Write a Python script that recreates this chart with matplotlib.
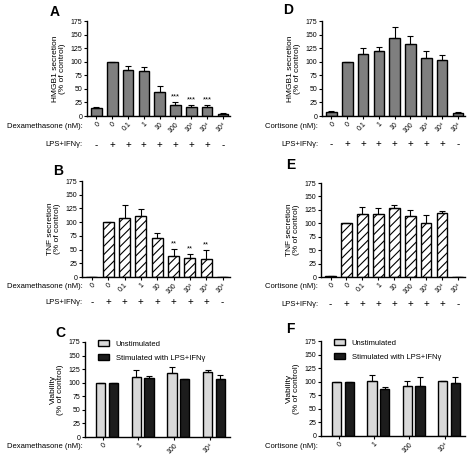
import matplotlib
matplotlib.use("Agg")
import matplotlib.pyplot as plt
from matplotlib.patches import Patch
import numpy as np

plt.rcParams['font.family'] = ['Liberation Sans', 'DejaVu Sans']
plt.rcParams['hatch.linewidth'] = 0.8

conc_labels = ['0', '0', '0.1', '1', '10', '100', '10³', '10⁴', '10⁴']
lps_signs = ['-', '+', '+', '+', '+', '+', '+', '+', '-']

hmgb1_dex = [14, 100, 85, 83, 45, 20, 17, 16, 4]
hmgb1_dex_err = [3, 0, 7, 7, 10, 5, 4, 4, 1]
hmgb1_dex_sig = ['', '', '', '', '', '***', '***', '***', '']

tnf_dex = [0.5, 100, 108, 112, 72, 39, 34, 33, 0.5]
tnf_dex_err = [0, 0, 23, 12, 8, 12, 8, 16, 0]
tnf_dex_sig = ['', '', '', '', '', '**', '**', '**', '']

hmgb1_cort = [8, 100, 114, 120, 144, 133, 106, 104, 6]
hmgb1_cort_err = [2, 0, 12, 8, 20, 14, 13, 9, 1]

tnf_cort = [1, 100, 117, 117, 128, 113, 101, 119, 0.5]
tnf_cort_err = [0, 0, 14, 11, 6, 12, 15, 3, 0]

via_labels = ['0', '1', '100', '10⁴']
via_dex_unstim = [100, 111, 118, 119]
via_dex_unstim_err = [0, 13, 11, 5]
via_dex_stim = [100, 108, 106, 106]
via_dex_stim_err = [0, 4, 0, 9]
via_cort_unstim = [100, 102, 93, 101]
via_cort_unstim_err = [0, 10, 9, 0]
via_cort_stim = [100, 87, 92, 97]
via_cort_stim_err = [0, 3, 17, 12]

W, H = 471, 459
fig = plt.figure(figsize=(W / 100, H / 100), dpi=100)
fig.patch.set_facecolor('white')


def add_ax(left, right, top, bottom):
    return fig.add_axes([left / W, 1 - bottom / H, (right - left) / W, (bottom - top) / H])


def style_ax(ax, ylabel):
    for s in ['top', 'right']:
        ax.spines[s].set_visible(False)
    for s in ['left', 'bottom']:
        ax.spines[s].set_linewidth(1.0)
    ax.set_ylim(0, 175)
    ax.set_yticks(np.arange(0, 176, 25))
    ax.tick_params(axis='y', labelsize=5, length=2.5, width=0.8, pad=1)
    ax.tick_params(axis='x', labelsize=5, length=2, width=0.8, pad=1.5)
    ax.set_ylabel(ylabel, fontsize=6, labelpad=3, linespacing=1.1)


def bar_panel(ax, vals, errs, sig, hatched, ylabel, drug, letter, lx, ly, ytop_lab, ytop_lps, fx):
    x = np.arange(len(vals))
    if hatched:
        ax.bar(x, vals, width=0.68, color='white', edgecolor='black', linewidth=1.0,
               hatch='////', zorder=2)
    else:
        ax.bar(x, vals, width=0.68, color='#7f7f7f', edgecolor='black', linewidth=1.0, zorder=2)
    lower = np.zeros(len(errs))
    ax.errorbar(x, vals, yerr=[lower, errs], fmt='none', ecolor='black', elinewidth=0.8,
                capsize=2.5, capthick=0.8, zorder=3)
    for xi, v, e, s in zip(x, vals, errs, sig):
        if s:
            ax.text(xi, v + e + 3, s, ha='center', va='bottom', fontsize=5.5)
    ax.set_xlim(-0.6, 8.45)
    style_ax(ax, ylabel)
    ax.set_xticks(x)
    ax.set_xticklabels(conc_labels, rotation=45, ha='right', rotation_mode='anchor')
    for xi, sgn in zip(x, lps_signs):
        px = ax.transData.transform((xi, 0))[0]
        fig.text(px / W, 1 - ytop_lps / H, sgn, ha='center', va='center', fontsize=7)
    fig.text(fx / W, 1 - ytop_lab / H, drug + ' (nM):', ha='right', va='center', fontsize=5.5)
    fig.text(fx / W, 1 - ytop_lps / H, 'LPS+IFNγ:', ha='right', va='center', fontsize=5.5)
    fig.text(lx / W, 1 - ly / H, letter, ha='center', va='center', fontsize=10, fontweight='bold')


def via_panel(ax, un, une, st, ste, drug, letter, lx, ly, ylab_y, fx):
    x = np.arange(len(un))
    off = 0.18
    w = 0.26
    ax.bar(x - off, un, width=w, color='#d9d9d9', edgecolor='black', linewidth=1.0, zorder=2)
    ax.bar(x + off, st, width=w, color='#1c1c1c', edgecolor='black', linewidth=1.0, zorder=2)
    z = np.zeros(len(un))
    ax.errorbar(x - off, un, yerr=[z, une], fmt='none', ecolor='black', elinewidth=0.8,
                capsize=2.5, capthick=0.8, zorder=3)
    ax.errorbar(x + off, st, yerr=[z, ste], fmt='none', ecolor='black', elinewidth=0.8,
                capsize=2.5, capthick=0.8, zorder=3)
    ax.set_xlim(-0.62, 3.45)
    style_ax(ax, 'Viability\n(% of control)')
    ax.set_xticks(x - 0.125)
    ax.set_xticklabels(via_labels, rotation=45, ha='right', rotation_mode='anchor')
    handles = [Patch(facecolor='#d9d9d9', edgecolor='black', linewidth=1.0, label='Unstimulated'),
               Patch(facecolor='#1c1c1c', edgecolor='black', linewidth=1.0,
                     label='Stimulated with LPS+IFNγ')]
    ax.legend(handles=handles, loc='upper left', bbox_to_anchor=(0.07, 1.05), frameon=False,
              fontsize=5.5, handlelength=1.4, handleheight=0.8, handletextpad=0.9,
              labelspacing=0.8, borderaxespad=0)
    fig.text(fx / W, 1 - ylab_y / H, drug + ' (nM):', ha='right', va='center', fontsize=5.5)
    fig.text(lx / W, 1 - ly / H, letter, ha='center', va='center', fontsize=10, fontweight='bold')


axA = add_ax(87, 230, 21, 116)
bar_panel(axA, hmgb1_dex, hmgb1_dex_err, hmgb1_dex_sig, False,
          'HMGB1 secretion\n(% of control)', 'Dexamethasone', 'A', 55, 12, 127, 145, 83)
axD = add_ax(322, 465, 21, 116)
bar_panel(axD, hmgb1_cort, hmgb1_cort_err, [''] * 9, False,
          'HMGB1 secretion\n(% of control)', 'Cortisone', 'D', 288, 10, 127, 144, 318)
axB = add_ax(82, 230, 181, 277)
bar_panel(axB, tnf_dex, tnf_dex_err, tnf_dex_sig, True,
          'TNF secretion\n(% of control)', 'Dexamethasone', 'B', 58, 171, 286, 302, 83)
axE = add_ax(321, 465, 183, 277)
bar_panel(axE, tnf_cort, tnf_cort_err, [''] * 9, True,
          'TNF secretion\n(% of control)', 'Cortisone', 'E', 291, 165, 286, 304, 318)
axC = add_ax(85, 230, 342, 437)
via_panel(axC, via_dex_unstim, via_dex_unstim_err, via_dex_stim, via_dex_stim_err,
          'Dexamethasone', 'C', 60, 333, 446, 83)
axF = add_ax(321, 465, 341, 436)
via_panel(axF, via_cort_unstim, via_cort_unstim_err, via_cort_stim, via_cort_stim_err,
          'Cortisone', 'F', 290, 329, 446, 318)

fig.savefig('out.png', dpi=100, facecolor='white')
